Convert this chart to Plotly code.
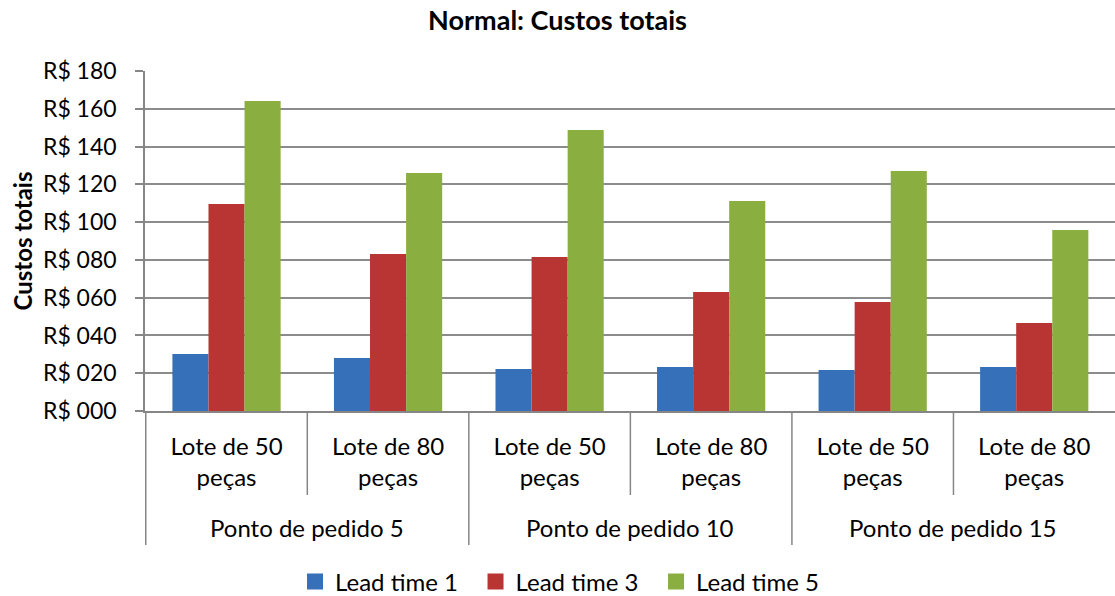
import plotly.graph_objects as go

outer_labels = ["Ponto de pedido 5", "Ponto de pedido 10", "Ponto de pedido 15"]
inner_labels = ["Lote de 50<br>peças", "Lote de 80<br>peças"]
category_ids = ["PP5 L50", "PP5 L80", "PP10 L50", "PP10 L80", "PP15 L50", "PP15 L80"]
category_text = inner_labels * 3

lead1 = [30.2, 28.1, 22.2, 23.3, 21.7, 23.3]
lead3 = [109.6, 83.1, 81.5, 63.0, 57.7, 46.6]
lead5 = [164.1, 126.0, 148.8, 111.2, 127.1, 95.8]

series_names = ["Lead time 1", "Lead time 3", "Lead time 5"]
series_colors = ["#3670B8", "#B83533", "#8BAE40"]

tick_vals = [0, 20, 40, 60, 80, 100, 120, 140, 160, 180]
tick_text = ["R$ 000", "R$ 020", "R$ 040", "R$ 060", "R$ 080",
             "R$ 100", "R$ 120", "R$ 140", "R$ 160", "R$ 180"]

FONT = "Lato"
AXIS_GRAY = "#868686"

fig = go.Figure()
for name, vals, col in zip(series_names, [lead1, lead3, lead5], series_colors):
    fig.add_trace(go.Bar(x=category_ids, y=vals, name=name, legendgroup=name,
                         showlegend=False,
                         marker=dict(color=col, line=dict(width=0))))
# legend entries with larger square keys
for name, col in zip(series_names, series_colors):
    fig.add_trace(go.Scatter(x=[None], y=[None], mode="markers", name=name,
                             legendgroup=name,
                             marker=dict(symbol="square", size=17, color=col)))

# dividers of the two-level category axis
shapes = []
n = len(category_ids)
for i in range(1, n):
    left = i - 0.5
    outer_edge = (i % 2 == 0)
    shapes.append(dict(type="line", xref="x", yref="paper",
                       x0=left, x1=left, y0=0, y1=-0.394 if outer_edge else -0.247,
                       line=dict(color=AXIS_GRAY, width=1.5)))
shapes.append(dict(type="line", xref="x", yref="paper", x0=-0.5, x1=-0.5,
                   y0=0, y1=-0.394, line=dict(color=AXIS_GRAY, width=1.5)))

annotations = []
for g, lab in enumerate(outer_labels):
    annotations.append(dict(text=lab, xref="x", yref="paper", x=2 * g + 0.5, y=-0.344,
                            xanchor="center", yanchor="middle", showarrow=False,
                            font=dict(size=24, family=FONT, color="black")))

fig.update_layout(
    width=1115, height=596,
    barmode="group", bargap=0.33, bargroupgap=0,
    paper_bgcolor="white", plot_bgcolor="white",
    margin=dict(l=145, r=0, t=71, b=185, autoexpand=False),
    font=dict(family=FONT, size=24, color="black"),
    title=dict(text="<b>Normal: Custos totais</b>", x=0.5, xanchor="center",
               y=1 - 21 / 596, yanchor="middle", font=dict(size=27, family=FONT)),
    legend=dict(orientation="h", x=0.2646, xanchor="left", xref="container",
                y=1 - 582 / 596, yref="container", yanchor="middle",
                font=dict(size=24), itemwidth=30, traceorder="normal",
                entrywidth=135.5, entrywidthmode="pixels"),
    shapes=shapes, annotations=annotations,
    xaxis=dict(type="category", categoryorder="array", categoryarray=category_ids,
               tickmode="array", tickvals=category_ids, ticktext=category_text,
               showline=True, linecolor=AXIS_GRAY, linewidth=1.5,
               ticks="", tickfont=dict(size=24), ticklabelstandoff=13,
               showgrid=False, automargin=False),
    yaxis=dict(range=[0, 180], tickvals=tick_vals, ticktext=tick_text,
               showgrid=True, gridcolor="#8C8C8C", gridwidth=1.5,
               showline=True, linecolor=AXIS_GRAY, linewidth=1.5,
               ticks="outside", ticklen=8, tickcolor=AXIS_GRAY, tickwidth=1.5,
               zeroline=False, tickfont=dict(size=23), ticklabelstandoff=14,
               automargin=False,
               title=dict(text="<b>Custos totais</b>", font=dict(size=24), standoff=4)),
)

fig.write_html("out.html", config={"displayModeBar": False},
               post_script="document.body.style.margin='0px';document.body.style.overflow='hidden';")
